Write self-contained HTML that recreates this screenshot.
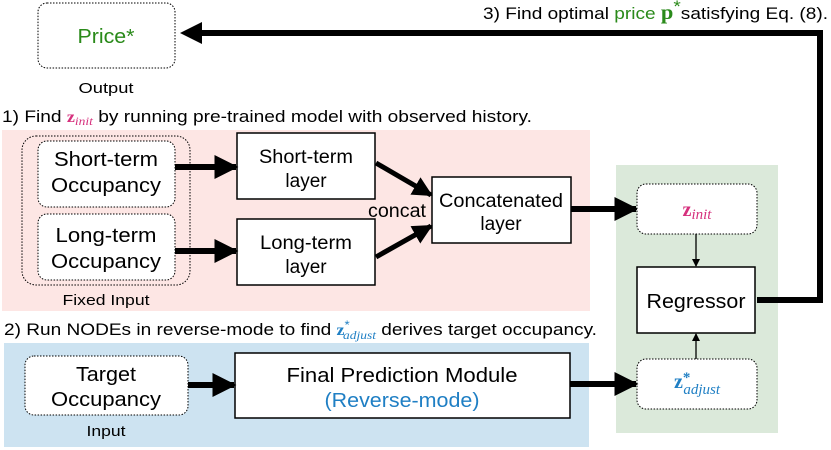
<!DOCTYPE html>
<html><head><meta charset="utf-8"><style>
html,body{margin:0;padding:0;background:#fff;width:831px;height:450px;overflow:hidden}
svg text{font-family:"Liberation Sans",sans-serif}
.m{font-family:"Liberation Serif",serif;font-weight:bold}
.i{font-family:"Liberation Serif",serif;font-style:italic}
</style></head><body>
<svg width="831" height="450" viewBox="0 0 831 450" xmlns="http://www.w3.org/2000/svg">
<defs>
<marker id="big" markerWidth="4" markerHeight="4" refX="3.6" refY="2" orient="auto" markerUnits="strokeWidth"><path d="M0,0 L4,2 L0,4 z" fill="#000"/></marker>
<marker id="sm" markerWidth="8" markerHeight="8" refX="7" refY="4" orient="auto" markerUnits="userSpaceOnUse"><path d="M0,0 L8,4 L0,8 z" fill="#000"/></marker>
</defs>
<rect x="2" y="130" width="588" height="181" fill="#fde6e4"/>
<rect x="4" y="343" width="585" height="104" fill="#cde3f1"/>
<rect x="616" y="165" width="162" height="268" fill="#dbe9da"/>

<text x="483" y="19" font-size="17" textLength="345" lengthAdjust="spacingAndGlyphs">3) Find optimal <tspan fill="#2a8a1a">price</tspan> <tspan class="m" fill="#2a8a1a" font-size="20">p</tspan><tspan fill="#2a8a1a" dy="-7">*</tspan><tspan dy="7">satisfying Eq. (8).</tspan></text>

<rect x="38" y="3" width="137" height="65" rx="9" fill="#fff" stroke="#000" stroke-dasharray="1.5,1.5"/>
<text x="106" y="43" font-size="20" fill="#2a8a1a" text-anchor="middle" textLength="57" lengthAdjust="spacingAndGlyphs">Price*</text>
<text x="106" y="93" font-size="15" text-anchor="middle" textLength="55" lengthAdjust="spacingAndGlyphs">Output</text>

<polyline points="757,300 820,300 820,33 200,33" fill="none" stroke="#000" stroke-width="6"/>
<path d="M180,33 L202,22 L202,44 z" fill="#000"/>

<text x="2" y="122" font-size="17" textLength="530" lengthAdjust="spacingAndGlyphs">1) Find <tspan class="m" fill="#d6307d" font-size="16">z</tspan><tspan class="i" fill="#d6307d" font-size="12" dy="3">init</tspan><tspan dy="-3"> by running pre-trained model with observed history.</tspan></text>

<rect x="22" y="136" width="168" height="149" rx="14" fill="none" stroke="#000" stroke-dasharray="1.5,1.5"/>
<rect x="38" y="141" width="137" height="66" rx="9" fill="#fff" stroke="#000" stroke-dasharray="1.5,1.5"/>
<text x="106" y="166" font-size="20" text-anchor="middle" textLength="104" lengthAdjust="spacingAndGlyphs">Short-term</text>
<text x="106" y="192" font-size="20" text-anchor="middle" textLength="110" lengthAdjust="spacingAndGlyphs">Occupancy</text>
<rect x="38" y="214" width="137" height="66" rx="9" fill="#fff" stroke="#000" stroke-dasharray="1.5,1.5"/>
<text x="106" y="242" font-size="20" text-anchor="middle" textLength="101" lengthAdjust="spacingAndGlyphs">Long-term</text>
<text x="106" y="268" font-size="20" text-anchor="middle" textLength="110" lengthAdjust="spacingAndGlyphs">Occupancy</text>
<text x="106" y="305" font-size="15" text-anchor="middle" textLength="87" lengthAdjust="spacingAndGlyphs">Fixed Input</text>

<rect x="237" y="133" width="138" height="66" fill="#fff" stroke="#000" stroke-width="1.5"/>
<text x="306" y="163" font-size="19" text-anchor="middle" textLength="94" lengthAdjust="spacingAndGlyphs">Short-term</text>
<text x="306" y="187" font-size="19" text-anchor="middle">layer</text>
<rect x="237" y="219" width="138" height="66" fill="#fff" stroke="#000" stroke-width="1.5"/>
<text x="306" y="249" font-size="19" text-anchor="middle" textLength="92" lengthAdjust="spacingAndGlyphs">Long-term</text>
<text x="306" y="273" font-size="19" text-anchor="middle">layer</text>
<rect x="432" y="177" width="139" height="66" fill="#fff" stroke="#000" stroke-width="1.5"/>
<text x="501" y="207" font-size="19" text-anchor="middle" textLength="124" lengthAdjust="spacingAndGlyphs">Concatenated</text>
<text x="501" y="230" font-size="19" text-anchor="middle">layer</text>
<text x="397" y="217" font-size="19" text-anchor="middle" textLength="58" lengthAdjust="spacingAndGlyphs">concat</text>

<line x1="175" y1="167" x2="236" y2="167" stroke="#000" stroke-width="6" marker-end="url(#big)"/>
<line x1="175" y1="251" x2="236" y2="251" stroke="#000" stroke-width="6" marker-end="url(#big)"/>
<line x1="376" y1="163" x2="431" y2="195" stroke="#000" stroke-width="5" marker-end="url(#big)"/>
<line x1="376" y1="257" x2="431" y2="226" stroke="#000" stroke-width="5" marker-end="url(#big)"/>
<line x1="571" y1="209" x2="636" y2="209" stroke="#000" stroke-width="6" marker-end="url(#big)"/>

<rect x="637" y="184" width="120" height="50" rx="9" fill="#fff" stroke="#000" stroke-dasharray="1.5,1.5"/>
<text x="697" y="216" class="m" font-size="20" fill="#d6307d" text-anchor="middle">z<tspan class="i" font-weight="normal" font-size="15" dy="3">init</tspan></text>
<rect x="637" y="267" width="118" height="66" fill="#fff" stroke="#000" stroke-width="1.5"/>
<text x="696" y="308" font-size="20" text-anchor="middle" textLength="99" lengthAdjust="spacingAndGlyphs">Regressor</text>
<rect x="637" y="359" width="120" height="50" rx="9" fill="#fff" stroke="#000" stroke-dasharray="1.5,1.5"/>
<text x="697" y="388" class="m" font-size="20" fill="#1f7fc4" text-anchor="middle">z<tspan dy="-6" font-size="15">*</tspan><tspan class="i" font-weight="normal" font-size="15" dx="-7" dy="12">adjust</tspan></text>
<line x1="696" y1="234" x2="696" y2="266" stroke="#000" stroke-width="1.3" marker-end="url(#sm)"/>
<line x1="696" y1="359" x2="696" y2="334" stroke="#000" stroke-width="1.3" marker-end="url(#sm)"/>

<text x="4" y="335" font-size="17" textLength="593" lengthAdjust="spacingAndGlyphs">2) Run NODEs in reverse-mode to find <tspan class="m" fill="#1f7fc4" font-size="16">z</tspan><tspan fill="#1f7fc4" font-size="12" dy="-6">*</tspan><tspan class="i" fill="#1f7fc4" font-size="12" dx="-6" dy="10">adjust</tspan><tspan dy="-4"> derives target occupancy.</tspan></text>

<rect x="25" y="356" width="163" height="59" rx="9" fill="#fff" stroke="#000" stroke-dasharray="1.5,1.5"/>
<text x="106" y="381" font-size="20" text-anchor="middle" textLength="60" lengthAdjust="spacingAndGlyphs">Target</text>
<text x="106" y="406" font-size="20" text-anchor="middle" textLength="110" lengthAdjust="spacingAndGlyphs">Occupancy</text>
<text x="106" y="436" font-size="15" text-anchor="middle" textLength="39" lengthAdjust="spacingAndGlyphs">Input</text>
<rect x="235" y="353" width="335" height="65" fill="#fff" stroke="#000" stroke-width="1.5"/>
<text x="402" y="382" font-size="20" text-anchor="middle" textLength="231" lengthAdjust="spacingAndGlyphs">Final Prediction Module</text>
<text x="402" y="407" font-size="20" fill="#1f7fc4" text-anchor="middle" textLength="155" lengthAdjust="spacingAndGlyphs">(Reverse-mode)</text>
<line x1="188" y1="385" x2="234" y2="385" stroke="#000" stroke-width="6" marker-end="url(#big)"/>
<line x1="570" y1="384" x2="636" y2="384" stroke="#000" stroke-width="6" marker-end="url(#big)"/>
</svg>
</body></html>
